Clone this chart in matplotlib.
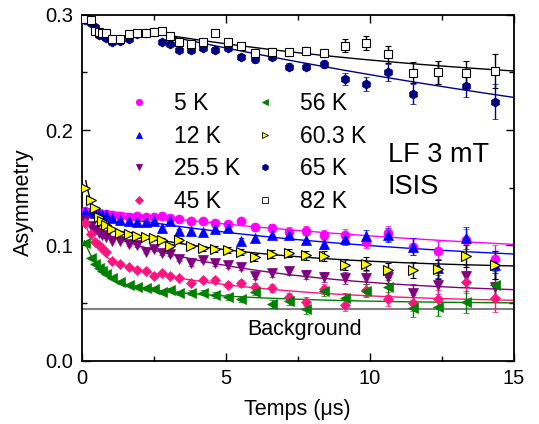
import numpy as np
import matplotlib
matplotlib.use("Agg")
import matplotlib.pyplot as plt
from matplotlib.lines import Line2D

plt.rcParams['font.family'] = ['Liberation Sans', 'DejaVu Sans']

# ---------------- data ----------------
T = [0.13, 0.32, 0.48, 0.6, 0.72, 0.86, 1.07, 1.35, 1.64, 1.93, 2.22, 2.5, 2.79,
     3.08, 3.38, 3.79, 4.22, 4.64, 5.08, 5.52, 6.03, 6.6, 7.2, 7.78, 8.42, 9.15,
     9.87, 10.64, 11.51, 12.38, 13.34, 14.34]

A_5K = [0.130, 0.129, 0.128, 0.128, 0.127, 0.127, 0.126, 0.1258, 0.125, 0.1255, 0.125,
        0.1245, 0.1258, 0.1235, 0.1226, 0.121, 0.1214, 0.119, 0.1185, 0.121, 0.1157,
        0.1148, 0.112, 0.1128, 0.109, 0.109, 0.103, 0.1105, 0.099, 0.0955, 0.105, 0.088]
A_12K = [0.129, 0.129, 0.128, 0.127, 0.126, 0.1265, 0.1235, 0.122, 0.1214, 0.1206, 0.1206,
         0.1214, 0.1148, 0.1214, 0.1128, 0.1128, 0.112, 0.114, 0.115, 0.1035, 0.106,
         0.109, 0.109, 0.105, 0.101, 0.1053, 0.108, 0.109, 0.099, 0.080, 0.106, 0.083]
A_25K = [0.122, 0.117, 0.113, 0.111, 0.109, 0.107, 0.104, 0.104, 0.101, 0.1003, 0.0945,
         0.0966, 0.0931, 0.0925, 0.088, 0.0845, 0.0873, 0.0845, 0.083, 0.0815, 0.0735,
         0.076, 0.078, 0.0745, 0.0723, 0.0715, 0.072, 0.0729, 0.059, 0.0657, 0.0733, 0.064]
A_45K = [0.119, 0.110, 0.103, 0.100, 0.098, 0.094, 0.0865, 0.0836, 0.081, 0.0787, 0.078,
         0.0735, 0.0758, 0.0735, 0.0715, 0.0677, 0.070, 0.070, 0.066, 0.067, 0.064,
         0.0628, 0.0555, 0.051, 0.062, 0.0483, 0.0613, 0.0535, 0.050, 0.0535, 0.0685, 0.054]
A_56K = [0.1018, 0.0893, 0.0836, 0.080, 0.0775, 0.075, 0.0715, 0.068, 0.0657, 0.0642,
         0.0628, 0.062, 0.0598, 0.0613, 0.0585, 0.059, 0.059, 0.057, 0.0555, 0.0532,
         0.0598, 0.0492, 0.052, 0.0446, 0.0607, 0.0541, 0.0607, 0.0637, 0.0454, 0.0468,
         0.0512, 0.0657]
A_60K = [0.150, 0.139, 0.132, 0.125, 0.121, 0.118, 0.114, 0.111, 0.110, 0.108, 0.107,
         0.106, 0.105, 0.0995, 0.1047, 0.0995, 0.0975, 0.0969, 0.0963, 0.094, 0.0897,
         0.0923, 0.0931, 0.0915, 0.0905, 0.0833, 0.0842, 0.0787, 0.0787, 0.0794, 0.091, 0.083]
A_65K = [0.2955, 0.2926, 0.2897, 0.2825, 0.2825, 0.2800, 0.2761, 0.2775, 0.279, 0.2833,
         0.284, 0.2848, 0.2767, 0.2744, 0.2695, 0.2692, 0.2712, 0.2695, 0.2708, 0.2634,
         0.2614, 0.2634, 0.255, 0.255, 0.257, 0.2443, 0.240, 0.2501, 0.2313, 0.250,
         0.2383, 0.2246]
A_82K = [0.296, 0.2955, 0.286, 0.2853, 0.2845, 0.284, 0.279, 0.279, 0.2833, 0.2845, 0.2845,
         0.2850, 0.2855, 0.2813, 0.2767, 0.2744, 0.2761, 0.284, 0.2761, 0.2731, 0.267,
         0.268, 0.2675, 0.2686, 0.2666, 0.273, 0.2758, 0.2657, 0.2498, 0.250, 0.2498, 0.2513]

ERR_LOW = [0.0008, 0.0008, 0.0009, 0.0009, 0.001, 0.001, 0.001, 0.0011, 0.0012, 0.0013,
           0.0014, 0.0015, 0.0016, 0.0017, 0.0018, 0.002, 0.0021, 0.0023, 0.0025, 0.0027,
           0.003, 0.0033, 0.0036, 0.004, 0.0044, 0.005, 0.0056, 0.0064, 0.0072, 0.0082,
           0.0095, 0.012]
ERR_HIGH = [0.0008, 0.0008, 0.0009, 0.0009, 0.001, 0.001, 0.001, 0.0011, 0.0012, 0.0013,
            0.0014, 0.0015, 0.0016, 0.0017, 0.0018, 0.002, 0.0021, 0.0023, 0.0025, 0.0027,
            0.003, 0.003, 0.003, 0.003, 0.0036, 0.0055, 0.006, 0.0075, 0.009, 0.010,
            0.010, 0.015]

LABELS = ['5 K', '12 K', '25.5 K', '45 K', '56 K', '60.3 K', '65 K', '82 K']

# fit parameters: A(t) = c + a exp(-lam t) + b exp(-mu t)
FIT_C = [0.0816, 0.0799, 0.0568, 0.0499, 0.0494, 0.0792, 0.1144, 0.2312]
FIT_A = [0.051, 0.0498, 0.0597, 0.0409, 0.0201, 0.0408, 0.184, 0.0644]
FIT_LAM = [0.065, 0.0917, 0.168, 0.187, 0.22, 0.175, 0.032, 0.078]
FIT_B = [0.0, 0.0, 0.008, 0.0394, 0.0417, 0.0608, 0.0, 0.0]
FIT_MU = [1.0, 1.0, 2.0, 2.3, 1.8, 3.3, 1.0, 1.0]
FIT_T0 = [0.0, 0.0, 0.1, 0.1, 0.1, 0.15, 2.5, 2.5]

BACKGROUND = 0.045

# ---------------- styles ----------------
series = [A_5K, A_12K, A_25K, A_45K, A_56K, A_60K, A_65K, A_82K]
errs = [ERR_LOW] * 6 + [ERR_HIGH] * 2
colors = ['#FF00FF', '#0000FF', '#800080', '#FF1480', '#008000', '#FFFF00', '#000080', 'white']
edges = ['#FF00FF', '#0000FF', '#800080', '#FF1480', '#008000', 'black', '#000080', 'black']
ecolors = ['#FF00FF', '#0000FF', '#800080', '#FF1480', '#008000', 'black', '#000080', 'black']
linecolors = ['#FF00FF', '#0000FF', '#800080', '#FF1480', '#008000', 'black', '#000080', 'black']
markers = ['o', '^', 'v', 'D', '<', '>', 'h', 's']
msizes = [6.5, 6.5, 6.5, 5.5, 6.5, 6.5, 6.5, 5.5]

fig = plt.figure(figsize=(5.39, 4.24), dpi=100)
ax = fig.add_axes([81.5 / 539, 1 - 360.7 / 424, (514 - 81.5) / 539, (360.7 - 14.7) / 424])

ax.axhline(BACKGROUND, color='#808080', lw=1.5, zorder=1)

for i in range(8):
    tt = np.linspace(FIT_T0[i], 15, 300)
    yy = FIT_C[i] + FIT_A[i] * np.exp(-FIT_LAM[i] * tt) + FIT_B[i] * np.exp(-FIT_MU[i] * tt)
    ax.plot(tt, yy, color=linecolors[i], lw=1.0, zorder=2)

for i in range(8):
    ax.errorbar(T, series[i], yerr=errs[i], fmt=markers[i], ms=msizes[i],
                mfc=colors[i], mec=edges[i], mew=0.8 if i in (5, 7) else 0.5,
                ecolor=ecolors[i], elinewidth=1.0, capsize=2.5, capthick=1.0,
                ls='none', zorder=3)

ax.set_xlim(0, 15)
ax.set_ylim(0, 0.3)
ax.set_xticks([0, 5, 10, 15])
ax.set_xticks([2.5, 7.5, 12.5], minor=True)
ax.set_yticks([0.0, 0.1, 0.2, 0.3])
ax.set_yticks([0.05, 0.15, 0.25], minor=True)
ax.set_yticklabels(['0.0', '0.1', '0.2', '0.3'])
ax.tick_params(which='both', direction='in', top=True, right=True, labelsize=14.5, width=1.0)
ax.tick_params(which='major', length=6, pad=6)
ax.tick_params(which='minor', length=3.5)
for s in ax.spines.values():
    s.set_linewidth(1.3)

ax.set_xlabel('Temps (μs)', fontsize=15.5, labelpad=8)
ax.set_ylabel('Asymmetry', fontsize=15.5)
ax.yaxis.set_label_coords(-0.11, 0.459)

ax.text(7.75, 0.027, 'Background', fontsize=15.5, ha='center', va='center')
ax.text(10.63, 0.1784, 'LF 3 mT', fontsize=19.5, ha='left', va='center')
ax.text(10.63, 0.1507, 'ISIS', fontsize=19.5, ha='left', va='center')

handles = [Line2D([], [], marker=markers[i], ls='none', ms=msizes[i] * 0.7,
                  mfc=colors[i], mec=edges[i], mew=0.6) for i in range(8)]
fig.legend(handles, LABELS, ncol=2, frameon=False, fontsize=16.5,
           loc='upper left', bbox_to_anchor=(127.5 / 539, 1 - 92 / 424),
           borderpad=0, borderaxespad=0, handlelength=1.0, handletextpad=1.03,
           columnspacing=0.6, labelspacing=0.42)

fig.savefig('out.png', dpi=100)
